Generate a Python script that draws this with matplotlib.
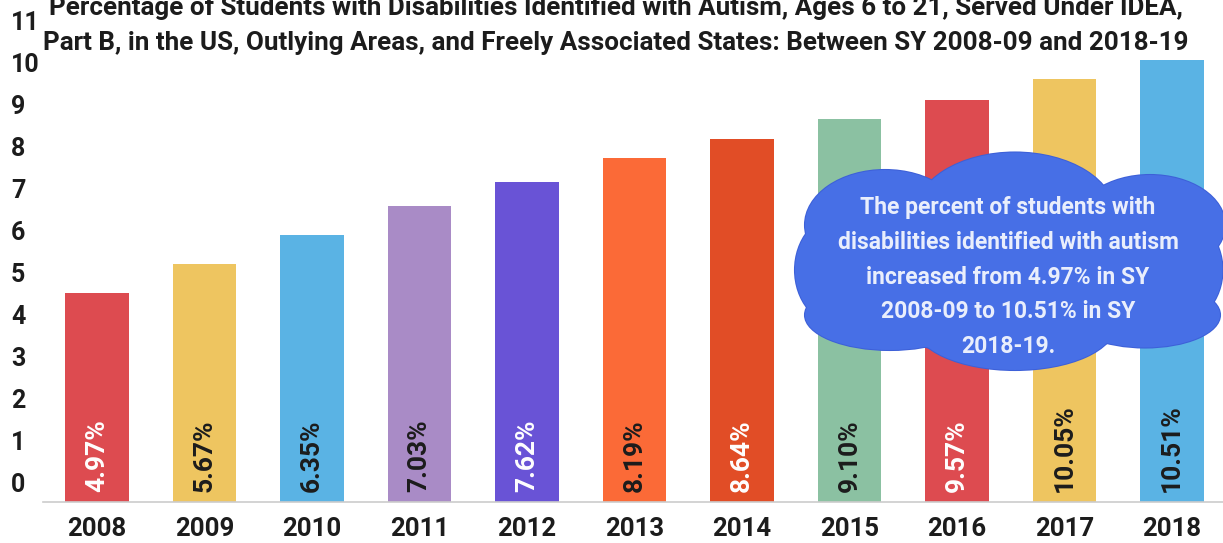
import matplotlib
matplotlib.use("Agg")
import matplotlib.pyplot as plt
import matplotlib.transforms as mtransforms
from matplotlib.patches import Ellipse

plt.rcParams["font.family"] = ["Roboto", "DejaVu Sans"]

# data
years = ["2008", "2009", "2010", "2011", "2012", "2013", "2014", "2015", "2016", "2017", "2018"]
values = [4.97, 5.67, 6.35, 7.03, 7.62, 8.19, 8.64, 9.10, 9.57, 10.05, 10.51]
labels = ["4.97%", "5.67%", "6.35%", "7.03%", "7.62%", "8.19%", "8.64%", "9.10%", "9.57%", "10.05%", "10.51%"]
colors = ["#dd4b50", "#eec560", "#5ab3e4", "#a98bc6", "#6953d6", "#fb6a37",
          "#e14d26", "#8bc1a2", "#dd4b50", "#eec560", "#5ab3e4"]
label_colors = ["white", "#1c1c1c", "#1c1c1c", "#1c1c1c", "white", "#1c1c1c",
                "white", "#1c1c1c", "white", "#1c1c1c", "#1c1c1c"]
yticks = list(range(12))

title_lines = ["Percentage of Students with Disabilities Identified with Autism, Ages 6 to 21, Served Under IDEA,",
               "Part B, in the US, Outlying Areas, and Freely Associated States: Between SY 2008-09 and 2018-19"]
note = ("The percent of students with\ndisabilities identified with autism\n"
        "increased from 4.97% in SY\n2008-09 to 10.51% in SY\n2018-19.")

W, H = 1223, 543
fig = plt.figure(figsize=(W / 100, H / 100), dpi=100)
ax = fig.add_axes([43 / W, 41 / H, 1 - 43 / W, 1 - 41 / H])

x = list(range(len(years)))
ax.bar(x, values, width=0.59, color=colors, zorder=2)
ax.set_xlim(-0.502, 10.474)
ax.set_ylim(0, 11.94)

for s in ["top", "right", "left"]:
    ax.spines[s].set_visible(False)
ax.spines["bottom"].set_color("#cccccc")
ax.spines["bottom"].set_linewidth(1.2)

ax.set_xticks(x)
ax.set_xticklabels(years, fontsize=18.5, fontweight="bold", color="#1c1c1c")
ax.tick_params(axis="x", length=0, pad=11)
ax.set_yticks([])

# y labels drawn a little above their gridline position
up = mtransforms.ScaledTranslation(0, 17 / 100, fig.dpi_scale_trans)
ytr = mtransforms.blended_transform_factory(fig.transFigure, ax.transData) + up
for v in yticks:
    ax.text(11 / W, v, str(v), transform=ytr, ha="left", va="center",
            fontsize=18, fontweight="bold", color="#1c1c1c", clip_on=False)

# value labels inside bars
lift = mtransforms.ScaledTranslation(0, 10 / 100, fig.dpi_scale_trans)
for i, (lab, c) in enumerate(zip(labels, label_colors)):
    ax.text(i, 0, lab, transform=ax.transData + lift, rotation=90, ha="center", va="bottom",
            fontsize=19, fontweight="bold", color=c, zorder=3)

# title, two lines, top one partly cut off like the original
for line, base in zip(title_lines, [15, 50]):
    fig.text(616 / W, 1 - base / H, line, ha="center", va="baseline", fontsize=18.7,
             fontweight="bold", color="#1c1c1c")

# cloud callout, pixel coordinates on an overlay
ov = fig.add_axes([0, 0, 1, 1])
ov.set_xlim(0, W)
ov.set_ylim(H, 0)
ov.axis("off")
puffs = [(1008, 265, 400, 180), (1015, 215, 200, 125), (885, 225, 160, 110),
         (1150, 225, 150, 100), (840, 270, 90, 110), (1175, 270, 95, 110),
         (890, 315, 170, 70), (1015, 325, 200, 90), (1145, 315, 150, 65)]
for cx, cy, w, h in puffs:
    ov.add_patch(Ellipse((cx, cy), w, h, facecolor="#3d60d8", edgecolor="#3d60d8", lw=1.5, zorder=1))
for cx, cy, w, h in puffs:
    ov.add_patch(Ellipse((cx, cy), w, h, facecolor="#476fe6", edgecolor="none", zorder=2))
ov.text(1008, 277, note, ha="center", va="center", fontsize=16.5, fontweight="bold",
        color="#e9eefc", linespacing=1.64, zorder=3)

fig.savefig("out.png", dpi=100)
